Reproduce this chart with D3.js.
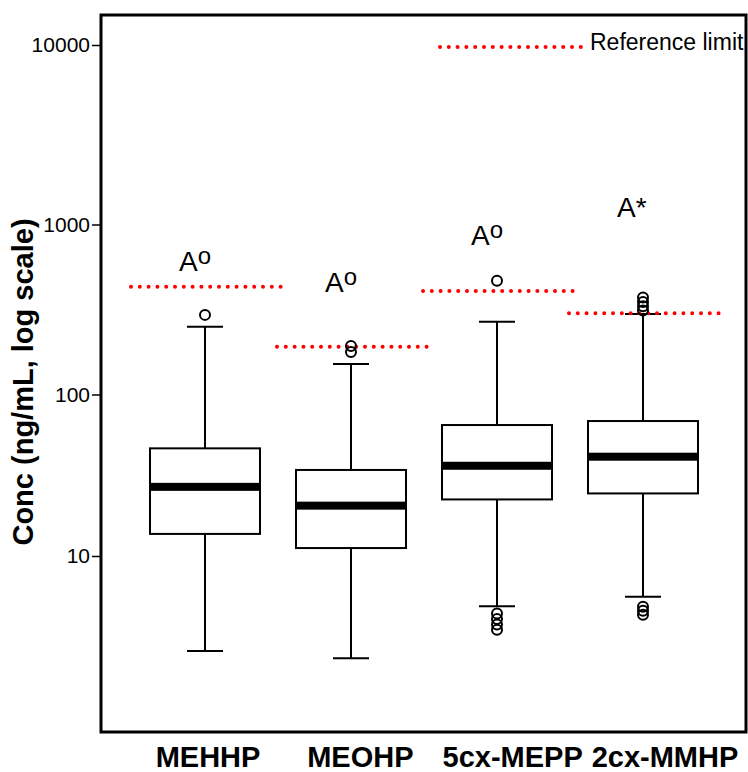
<!DOCTYPE html>
<html>
<head>
<meta charset="utf-8">
<script src="https://cdn.jsdelivr.net/npm/d3@7"></script>
<style>
  body { margin: 0; background: #fff; }
  text { font-family: "Liberation Sans", Arial, sans-serif; }
</style>
</head>
<body>
<div id="chart"></div>
<script>
// values (ng/mL)
var categories = ["MEHHP", "MEOHP", "5cx-MEPP", "2cx-MMHP"];
var q1 = [13.7, 11.2, 22.4, 24.4];
var medians = [26.8, 20.5, 36.2, 41.2];
var q3 = [46.4, 34.1, 64.7, 68.5];
var whiskerLow = [2.58, 2.33, 4.89, 5.6];
var whiskerHigh = [250, 151, 268, 298];
var outliers = [
  [294],
  [193, 178],
  [467, 4.4, 4.07, 3.77, 3.5],
  [372, 350, 330, 312, 4.85, 4.58, 4.33]
];
var refLimits = [430, 191, 406, 301];
var letterText = ["A", "A", "A", "A"];
var letterSup = ["o", "o", "o", "*"];
var letterAt = [535, 399, 757, 1105];
var yTicks = [10, 100, 1000, 10000];

var width = 748, height = 772;
var plot = { left: 101, right: 746, top: 15, bottom: 732 };

var svg = d3.select("#chart")
  .append("svg")
  .attr("width", width)
  .attr("height", height);

var x = d3.scaleBand()
  .domain(categories)
  .range([plot.left + 31, plot.right - 30])
  .padding(0);

// the original axis is not evenly spaced per decade, so piecewise log
var y = d3.scaleLog()
  .domain(yTicks)
  .range([556, 394.5, 224.5, 45]);

var labelX = d3.scalePoint()
  .domain(categories)
  .range([208, 665]);

var boxW = 110, capW = 36;

var rows = categories.map(function (c, i) {
  return {
    name: c, q1: q1[i], med: medians[i], q3: q3[i],
    lo: whiskerLow[i], hi: whiskerHigh[i], out: outliers[i],
    ref: refLimits[i], letter: letterText[i], sup: letterSup[i], at: letterAt[i]
  };
});

function cx(d) { return x(d.name) + x.bandwidth() / 2; }

// frame
svg.append("rect")
  .attr("x", plot.left)
  .attr("y", plot.top)
  .attr("width", plot.right - plot.left)
  .attr("height", plot.bottom - plot.top)
  .attr("fill", "none")
  .attr("stroke", "#000")
  .attr("stroke-width", 3);

// y axis ticks
var yAxis = svg.append("g")
  .attr("transform", "translate(" + plot.left + ",0)")
  .call(d3.axisLeft(y).tickValues(yTicks).tickSize(9).tickPadding(2).tickFormat(d3.format("d")));
yAxis.select(".domain").remove();
yAxis.selectAll(".tick line").attr("stroke-width", 1.5);
yAxis.selectAll(".tick text")
  .attr("font-size", 21)
  .attr("font-family", "Liberation Sans, Arial, sans-serif")
  .attr("fill", "#000");

svg.append("text")
  .attr("transform", "translate(33,382) rotate(-90)")
  .attr("text-anchor", "middle")
  .attr("font-size", 29)
  .attr("font-weight", "bold")
  .text("Conc (ng/mL, log scale)");

// reference limits, dotted red
function dotted(sel) {
  return sel.attr("stroke", "#ff0000")
    .attr("stroke-width", 4)
    .attr("stroke-linecap", "round")
    .attr("stroke-dasharray", "0 8.8");
}

var g = svg.selectAll(".box")
  .data(rows)
  .enter()
  .append("g")
  .attr("class", "box");

// whiskers
g.append("line")
  .attr("x1", cx).attr("x2", cx)
  .attr("y1", function (d) { return y(d.hi); })
  .attr("y2", function (d) { return y(d.lo); })
  .attr("stroke", "#000").attr("stroke-width", 2);

g.append("line")
  .attr("x1", function (d) { return cx(d) - capW / 2; })
  .attr("x2", function (d) { return cx(d) + capW / 2; })
  .attr("y1", function (d) { return y(d.hi); })
  .attr("y2", function (d) { return y(d.hi); })
  .attr("stroke", "#000").attr("stroke-width", 2);

g.append("line")
  .attr("x1", function (d) { return cx(d) - capW / 2; })
  .attr("x2", function (d) { return cx(d) + capW / 2; })
  .attr("y1", function (d) { return y(d.lo); })
  .attr("y2", function (d) { return y(d.lo); })
  .attr("stroke", "#000").attr("stroke-width", 2);

// boxes
g.append("rect")
  .attr("x", function (d) { return cx(d) - boxW / 2; })
  .attr("y", function (d) { return y(d.q3); })
  .attr("width", boxW)
  .attr("height", function (d) { return y(d.q1) - y(d.q3); })
  .attr("fill", "#fff")
  .attr("stroke", "#000")
  .attr("stroke-width", 2);

g.append("rect")
  .attr("x", function (d) { return cx(d) - boxW / 2; })
  .attr("y", function (d) { return y(d.med) - 4; })
  .attr("width", boxW)
  .attr("height", 8)
  .attr("fill", "#000");

// reference lines (drawn under the outlier circles)
g.append("line")
  .attr("x1", function (d) { return cx(d) - 74; })
  .attr("x2", function (d) { return cx(d) + 77; })
  .attr("y1", function (d) { return y(d.ref); })
  .attr("y2", function (d) { return y(d.ref); })
  .call(dotted);

// outliers
g.selectAll("circle")
  .data(function (d) { return d.out.map(function (v) { return { name: d.name, v: v }; }); })
  .enter()
  .append("circle")
  .attr("cx", cx)
  .attr("cy", function (d) { return y(d.v); })
  .attr("r", 5)
  .attr("fill", "none")
  .attr("stroke", "#000")
  .attr("stroke-width", 2);

// letters
var lt = g.append("text")
  .attr("x", function (d) { return cx(d) - 26; })
  .attr("y", function (d) { return y(d.at); })
  .attr("font-size", 28)
  .text(function (d) { return d.letter; });

lt.append("tspan")
  .attr("font-size", function (d) { return d.sup === "o" ? 24 : 28; })
  .attr("dy", function (d) { return d.sup === "o" ? -7 : 0; })
  .text(function (d) { return d.sup; });

// legend
svg.append("line")
  .attr("x1", 440).attr("x2", 588)
  .attr("y1", 47).attr("y2", 47)
  .call(dotted);

svg.append("text")
  .attr("x", 590)
  .attr("y", 50)
  .attr("font-size", 23)
  .text("Reference limit");

// category labels
svg.selectAll(".cat")
  .data(categories)
  .enter()
  .append("text")
  .attr("class", "cat")
  .attr("x", function (d) { return labelX(d); })
  .attr("y", 767)
  .attr("text-anchor", "middle")
  .attr("font-size", 29)
  .attr("font-weight", "bold")
  .text(function (d) { return d; });
</script>
</body>
</html>
